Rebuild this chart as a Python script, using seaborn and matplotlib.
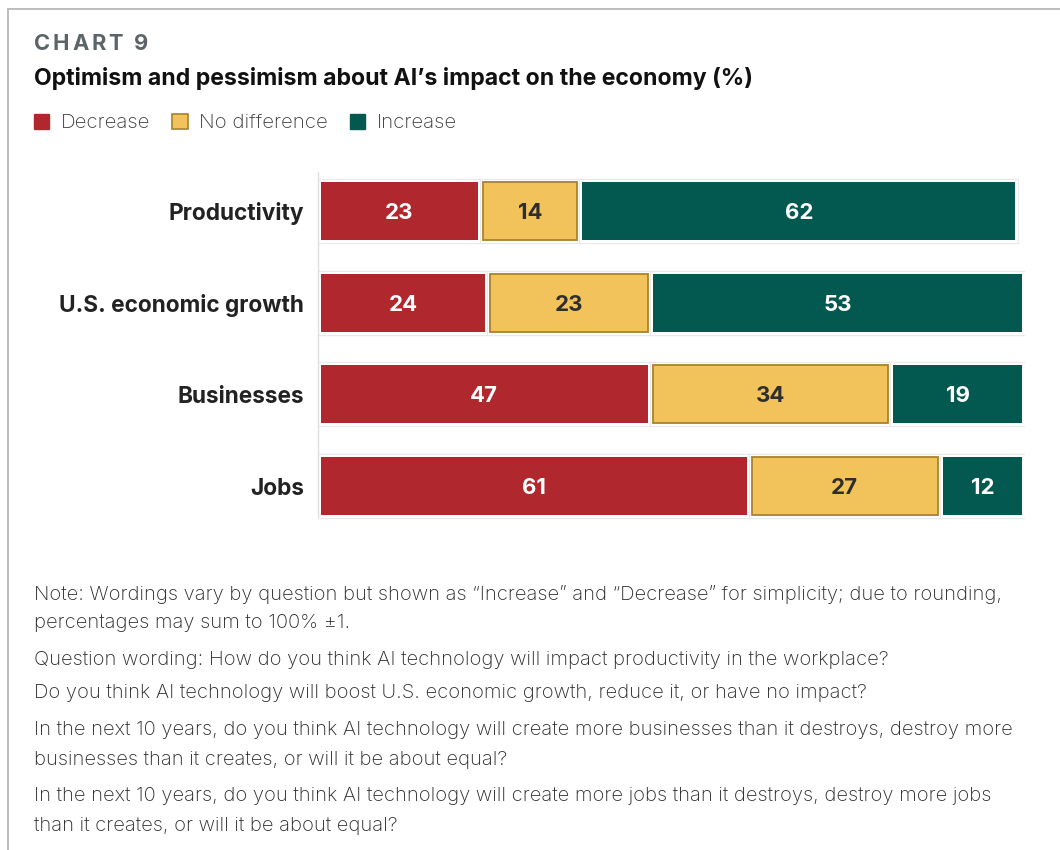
import matplotlib
matplotlib.use("Agg")
import matplotlib.pyplot as plt
import matplotlib.patheffects as pe
from matplotlib.patches import Patch
from matplotlib.lines import Line2D
import numpy as np
import pandas as pd
import seaborn as sns

# ---- data -------------------------------------------------------------
categories = ["Productivity", "U.S. economic growth", "Businesses", "Jobs"]
decrease = [23, 24, 47, 61]
no_difference = [14, 23, 34, 27]
increase = [62, 53, 19, 12]
series_names = ["Decrease", "No difference", "Increase"]

chart_tag = "CHART 9"
title = "Optimism and pessimism about AI\u2019s impact on the economy (%)"
note_lines = [
    ["Note: Wordings vary by question but shown as \u201cIncrease\u201d and \u201cDecrease\u201d for simplicity; due to rounding,",
     "percentages may sum to 100% \u00b11."],
    ["Question wording: How do you think AI technology will impact productivity in the workplace?"],
    ["Do you think AI technology will boost U.S. economic growth, reduce it, or have no impact?"],
    ["In the next 10 years, do you think AI technology will create more businesses than it destroys, destroy more",
     "businesses than it creates, or will it be about equal?"],
    ["In the next 10 years, do you think AI technology will create more jobs than it destroys, destroy more jobs",
     "than it creates, or will it be about equal?"],
]

# ---- style ------------------------------------------------------------
RED = "#B0272D"
YELLOW = "#F3C35B"
GREEN = "#03594F"
GOLD_EDGE = "#A8822C"
colors = [RED, YELLOW, GREEN]
label_colors = ["white", "#2E2E2E", "white"]

sns.set_theme(style="white")
plt.rcParams["font.family"] = ["Inter", "DejaVu Sans"]

W, H = 1060, 850
fig = plt.figure(figsize=(W / 100, H / 100), dpi=100)
fig.patch.set_facecolor("white")


def fx(px):
    return px / W


def fy(py):
    return 1 - py / H


# frame lines (top and left)
fig.add_artist(Line2D([fx(8), 1], [fy(9), fy(9)], color="#BDBDBD", lw=1.4))
fig.add_artist(Line2D([fx(8), fx(8)], [0, fy(9)], color="#BDBDBD", lw=1.4))

# ---- stacked bars -----------------------------------------------------
ax_left, ax_right = 318, 1025
ax_top, ax_bottom = 165, 532
ax = fig.add_axes([fx(ax_left), fy(ax_bottom), fx(ax_right - ax_left), (ax_bottom - ax_top) / H])

df = pd.DataFrame({"category": categories,
                   "Decrease": decrease,
                   "No difference": no_difference,
                   "Increase": increase})
left = np.zeros(len(categories))
containers = []
for name, col in zip(series_names, colors):
    vals = df[name].to_numpy(dtype=float)
    sns.barplot(data=df, x=name, y="category", orient="h", color=col,
                width=0.63, left=left.copy(), saturation=1, ax=ax,
                linewidth=0, edgecolor="none")
    containers.append(ax.containers[-1])
    left = left + vals

ax.set_xlim(0, 100)
ax.set_ylim(3.5, -0.5)

# small white gap around every segment, with a faint outer outline
px_per_unit = (ax_right - ax_left) / 100
gap = 2.6 / px_per_unit
for i, cont in enumerate(containers):
    for p in cont.patches:
        p.set_x(p.get_x() + gap)
        p.set_width(p.get_width() - 2 * gap)
        if i == 1:
            p.set_edgecolor(GOLD_EDGE)
            p.set_linewidth(1.3)
        p.set_path_effects([pe.Stroke(linewidth=5.2, foreground="#E6E6E6"),
                            pe.Stroke(linewidth=3.8, foreground="white"),
                            pe.Normal()])

for cont, vals, tc in zip(containers, [decrease, no_difference, increase], label_colors):
    labels = ax.bar_label(cont, labels=[f"{v:d}" for v in vals], label_type="center",
                          color=tc, fontsize=16, fontweight="bold")
    for t in labels:
        t.set_va("center_baseline")

ax.set_xlabel("")
ax.set_ylabel("")
ax.set_xticks([])
ax.tick_params(axis="y", length=0, pad=10)
for lab in ax.get_yticklabels():
    lab.set_fontsize(16.3)
    lab.set_fontweight("bold")
    lab.set_color("#222222")
for s in ["top", "right", "bottom"]:
    ax.spines[s].set_visible(False)
ax.spines["left"].set_color("#DEDEDE")
ax.spines["left"].set_linewidth(1.0)
ax.spines["left"].set_bounds(-0.42, 3.33)
ax.set_facecolor("none")

# ---- header -----------------------------------------------------------
renderer = fig.canvas.get_renderer()
x_px = 34
for ch in chart_tag:
    t = fig.text(fx(x_px), fy(44), ch, fontsize=15.8, fontweight="bold",
                 color="#5C6468", va="center", ha="left")
    w = t.get_window_extent(renderer).width
    x_px += w + 2.8

fig.text(fx(34), fy(78), title, fontsize=16.6, fontweight="bold",
         color="#111111", va="center", ha="left")

handles = [Patch(facecolor=RED, edgecolor=RED),
           Patch(facecolor=YELLOW, edgecolor=GOLD_EDGE, linewidth=1.2),
           Patch(facecolor=GREEN, edgecolor=GREEN)]
leg = fig.legend(handles, series_names, loc="center left",
                 bbox_to_anchor=(fx(34), fy(123)), ncol=3, frameon=False,
                 prop={"size": 14.7, "weight": "light"},
                 handlelength=0.75, handleheight=0.75,
                 handletextpad=0.55, columnspacing=1.1, borderpad=0,
                 borderaxespad=0)
for t in leg.get_texts():
    t.set_color("#3A3A3A")

# ---- notes ------------------------------------------------------------
note_y = [[594, 623], [660], [693], [730, 760], [796, 826]]
for para, ys in zip(note_lines, note_y):
    for line, y in zip(para, ys):
        fig.text(fx(34), fy(y), line, fontsize=14.5, fontweight="light",
                 color="#2A2A2A", va="center", ha="left")

fig.savefig("out.png", dpi=100, facecolor="white")
